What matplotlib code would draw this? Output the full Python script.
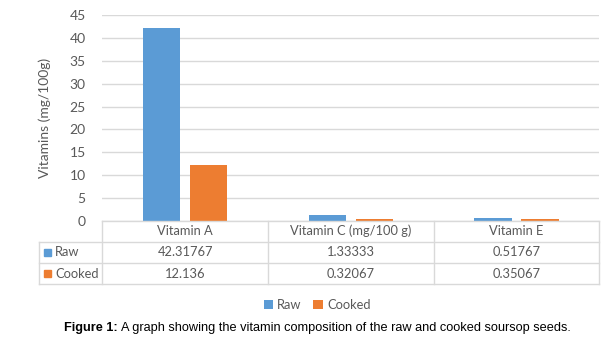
import numpy as np
import matplotlib.pyplot as plt
from matplotlib.lines import Line2D
from matplotlib.patches import Rectangle

vitamins = ["Vitamin A", "Vitamin C (mg/100 g)", "Vitamin E"]
raw = [42.31767, 1.33333, 0.51767]
cooked = [12.136, 0.32067, 0.35067]
series = ["Raw", "Cooked"]
colors = ["#5B9BD5", "#ED7D31"]

W, H = 613, 342
TXT = "#595959"
GRID = "#d9d9d9"
plt.rcParams['font.family'] = ['Lato', 'DejaVu Sans']

fig = plt.figure(figsize=(W / 100, H / 100), dpi=100)


def fx(px):
    return px / W


def fy(py):
    return 1 - py / H


# plot area in pixel terms
left, right, top, bottom = 102.3, 599.3, 15.3, 220.7
ax = fig.add_axes([fx(left), fy(bottom), fx(right - left), (bottom - top) / H])

x = np.arange(len(vitamins))
w = 0.225
off = 0.142
for vals, name, c, d in zip([raw, cooked], series, colors, [-1, 1]):
    ax.bar(x + d * off, vals, width=w, color=c, label=name, zorder=3)

ax.set_xlim(-0.5, len(vitamins) - 0.5)
ax.set_ylim(0, 45)
ax.set_yticks(np.arange(0, 46, 5))
ax.set_xticks([])
ax.grid(axis='y', color=GRID, linewidth=1, zorder=0)
for s in ax.spines.values():
    s.set_visible(False)
ax.tick_params(axis='y', length=0, pad=12, labelsize=10, labelcolor=TXT)
ax.set_ylabel("Vitamins (mg/100g)", fontsize=10, color=TXT, labelpad=13)

# data table underneath the plot
rows_y = [220.7, 241.7, 263.3, 284.3]
cols_x = [left + i * (right - left) / len(vitamins) for i in range(len(vitamins) + 1)]
tab_left = 39.3


def hline(y, x0, x1):
    fig.add_artist(Line2D([fx(x0), fx(x1)], [fy(y), fy(y)], color=GRID, lw=1))


def vline(xp, y0, y1):
    fig.add_artist(Line2D([fx(xp), fx(xp)], [fy(y0), fy(y1)], color=GRID, lw=1))


hline(rows_y[0], left, right)
for y in rows_y[1:]:
    hline(y, tab_left, right)
for xp in cols_x:
    vline(xp, rows_y[0], rows_y[-1])
vline(tab_left, rows_y[1], rows_y[-1])

for i, name in enumerate(vitamins):
    cx = (cols_x[i] + cols_x[i + 1]) / 2
    fig.text(fx(cx), fy((rows_y[0] + rows_y[1]) / 2), name, ha='center', va='center',
             fontsize=9.3, color=TXT)
for r, (vals, name, c) in enumerate(zip([raw, cooked], series, colors)):
    cy = (rows_y[r + 1] + rows_y[r + 2]) / 2
    fig.add_artist(Rectangle((fx(44), fy(cy + 3.5)), fx(7), 7 / H, color=c))
    fig.text(fx(55), fy(cy), name, ha='left', va='center', fontsize=9.3, color=TXT)
    for i, v in enumerate(vals):
        cx = (cols_x[i] + cols_x[i + 1]) / 2
        fig.text(fx(cx), fy(cy), f"{v:g}" if v < 1 else f"{v}", ha='center', va='center',
                 fontsize=9.3, color=TXT)

leg = fig.legend(loc='center', bbox_to_anchor=(fx(317), fy(305)), ncol=2, frameon=False,
                 fontsize=9.3, handlelength=0.75, handleheight=0.75, handletextpad=0.3,
                 columnspacing=0.9, labelcolor=TXT)

fig.text(fx(64), fy(328), "Figure 1:", fontsize=9.2, fontweight='bold',
         family='Liberation Sans', va='center', ha='left')
fig.text(fx(121), fy(328), "A graph showing the vitamin composition of the raw and cooked soursop seeds.",
         fontsize=9.2, family='Liberation Sans', va='center', ha='left')

fig.savefig("out.png", dpi=100)
